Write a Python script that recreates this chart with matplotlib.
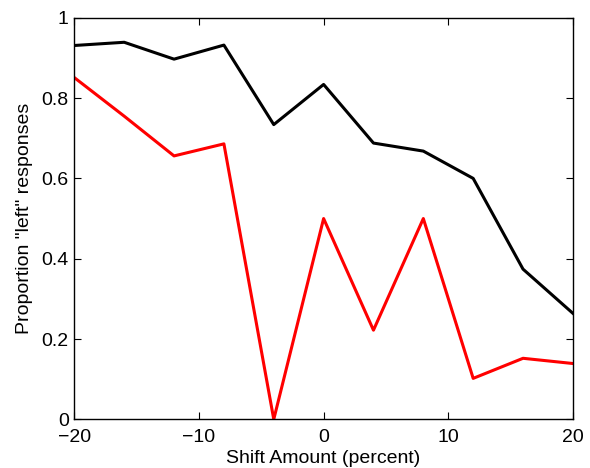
import matplotlib
matplotlib.use("Agg")
import matplotlib.pyplot as plt

shift = [-20, -16, -12, -8, -4, 0, 4, 8, 12, 16, 20]
black_vals = [0.931, 0.939, 0.897, 0.932, 0.734, 0.834, 0.688, 0.668, 0.600, 0.374, 0.264]
red_vals = [0.851, 0.755, 0.656, 0.686, 0.0, 0.500, 0.222, 0.500, 0.102, 0.152, 0.139]

xticks = [-20, -10, 0, 10, 20]
yticks = [0, 0.2, 0.4, 0.6, 0.8, 1]
ytick_labels = ["0", "0.2", "0.4", "0.6", "0.8", "1"]

plt.rcParams['font.family'] = ['Liberation Sans', 'DejaVu Sans']

fig = plt.figure(figsize=(5.9, 4.68), dpi=100)
ax = fig.add_axes([0.126, 0.104, 0.845, 0.858])

ax.plot(shift, black_vals, color="black", linewidth=2.2)
ax.plot(shift, red_vals, color="red", linewidth=2.2)

ax.set_xlim(-20, 20)
ax.set_ylim(0, 1)
ax.set_xticks(xticks)
ax.set_xticklabels([str(t).replace("-", "\u2212") for t in xticks])
ax.set_yticks(yticks)
ax.set_yticklabels(ytick_labels)
ax.tick_params(direction="in", length=5, width=0.8, labelsize=14,
               top=True, right=True)
ax.tick_params(axis="x", pad=7)
ax.tick_params(axis="y", pad=4)
for s in ax.spines.values():
    s.set_linewidth(1.0)

ax.set_xlabel("Shift Amount (percent)", fontsize=14, labelpad=3)
ax.set_ylabel('Proportion "left" responses', fontsize=14, labelpad=6)

fig.savefig("out.png", dpi=100)
